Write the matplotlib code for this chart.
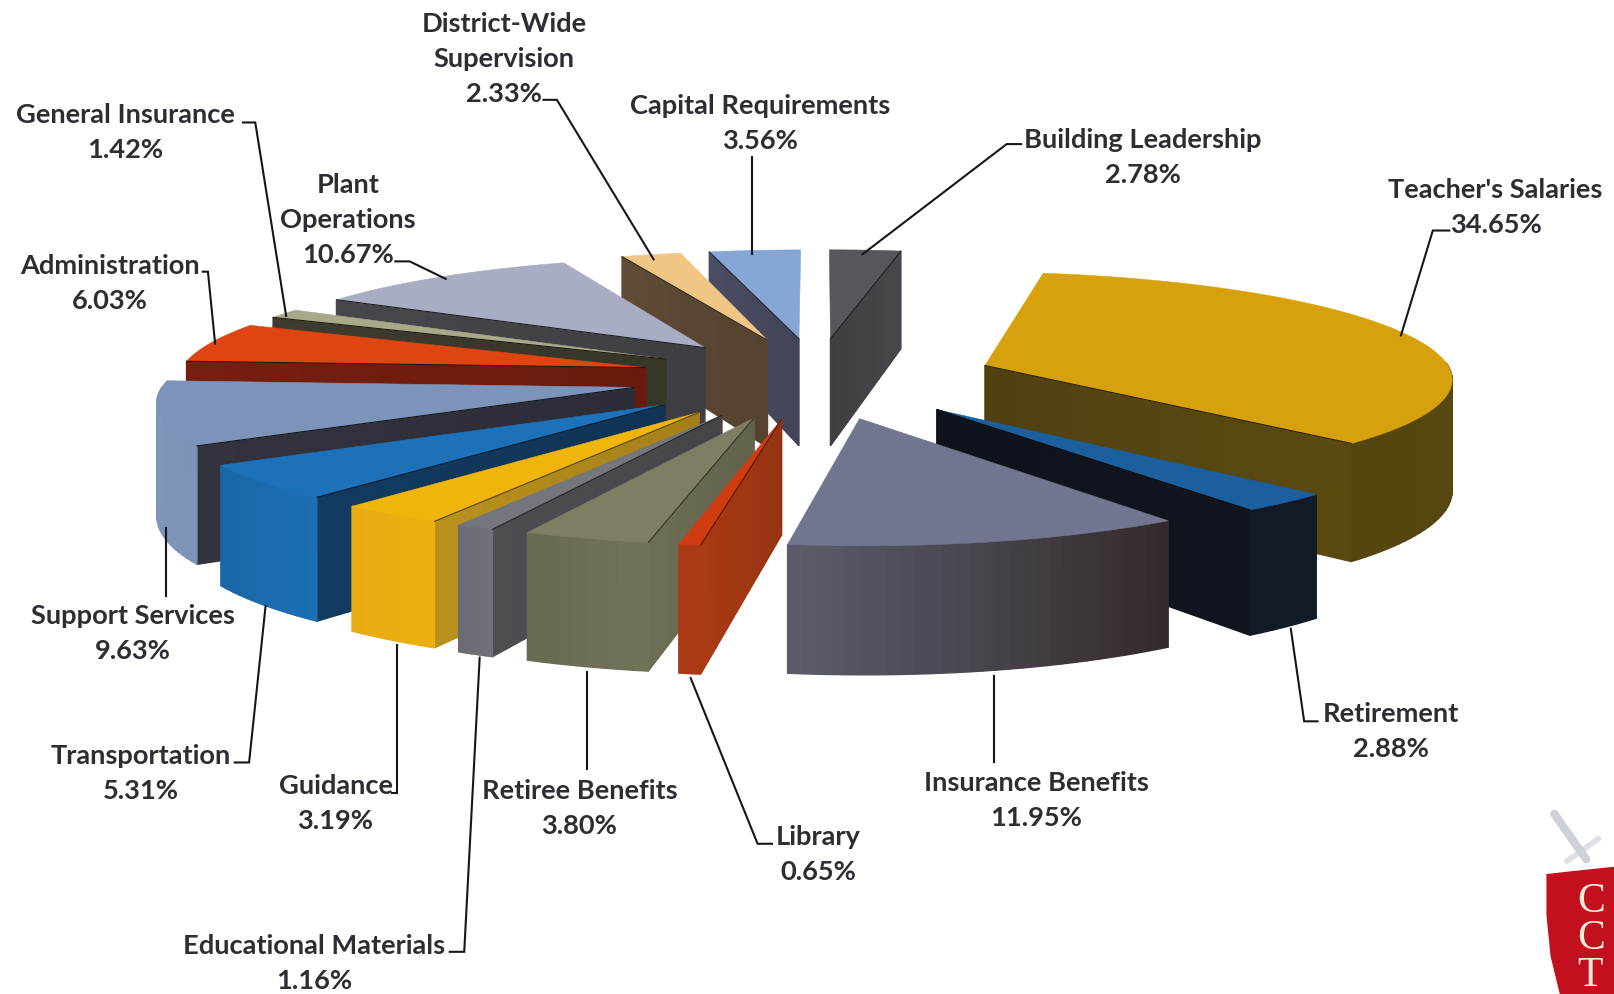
import numpy as np
import matplotlib
matplotlib.use("Agg")
import matplotlib.pyplot as plt
from matplotlib.patches import Polygon
from matplotlib.colors import to_rgb

# Budget shares, clockwise from twelve o'clock
categories = ["Building Leadership", "Teacher's Salaries", "Retirement", "Insurance Benefits",
              "Library", "Retiree Benefits", "Educational Materials", "Guidance", "Transportation",
              "Support Services", "Administration", "General Insurance", "Plant\nOperations",
              "District-Wide\nSupervision", "Capital Requirements"]
shares = [2.78, 34.65, 2.88, 11.95, 0.65, 3.80, 1.16, 3.19, 5.31, 9.63, 6.03, 1.42, 10.67, 2.33, 3.56]

top_colors = ["#56575d", "#d6a10c", "#1b5f9f", "#72758f", "#cf3c10", "#7f7e64", "#74757d", "#f0b50a",
              "#1c71b8", "#7c94b9", "#de4510", "#a9a98a", "#a9adc3", "#f0c685", "#86a6d6"]
side_colors = ["#47474b", "#5a4a12", "#11151e", "#3f404c", "#a93a14", "#6e6e56", "#4e4d51", "#b8901c",
               "#123a60", "#33333e", "#761e10", "#3f3c2e", "#47464c", "#5f4b36", "#4a4c62"]
outer_near = ["#47474b", "#5a4a12", "#121a28", "#332a2c", "#a93a14", "#72725a", "#6f7179", "#ebb010",
              "#1c6fb4", "#7c94b9", "#761e10", "#3f3c2e", "#47464c", "#5f4b36", "#4a4c62"]
outer_far = ["#47474b", "#55460f", "#121a28", "#5a5c6a", "#a93a14", "#6a6a52", "#6a6c74", "#e8ac12",
             "#1a66a6", "#8097bb", "#761e10", "#3f3c2e", "#47464c", "#5f4b36", "#4a4c62"]

# Sideways pull of each exploded slice, on top of the radial explosion
slice_shift = [-3, -3, -1, -2, -6, -8, -13, -14, -13, -7, 0, 4, 0, 0, 0]

# Label text anchors and the leader line that runs from each label to its slice
label_xy = [(1110, 153), (1453, 202), (1351, 711), (1007, 778), (795, 830), (563, 786), (305, 936),
            (326, 781), (137, 752), (129, 616), (107, 276), (122, 129), (338, 214), (490, 57), (738, 120)]
leader_xy = [
    [(992, 141), (978, 141), (838, 248)],
    [(1408, 225), (1392, 225), (1361, 327)],
    [(1280, 702), (1267, 702), (1254, 612)],
    [(966, 742), (966, 658)],
    [(750, 821), (736, 821), (671, 660)],
    [(570, 748), (570, 654)],
    [(437, 926), (451, 926), (466, 640)],
    [(381, 772), (386, 772), (386, 628)],
    [(228, 742), (242, 742), (258, 590)],
    [(161, 580), (161, 514)],
    [(197, 265), (202, 265), (209, 335)],
    [(236, 120), (248, 120), (278, 308)],
    [(384, 255), (398, 255), (433, 272)],
    [(528, 98), (541, 98), (635, 253)],
    [(731, 154), (731, 248)],
]

# Projection of the tilted, exploded disc
CX, CY = 795.0, 368.0
RADIUS, EXPLODE, DEPTH = 455.0, 175.0, 108.0
TILT, CAMERA = 0.225, 4500.0


def project(X, Y, Z=0.0):
    s = 1.0 / (1.0 - np.asarray(Y, float) / CAMERA)
    return np.column_stack([CX + np.asarray(X, float) * s, CY + (TILT * np.asarray(Y, float) + Z) * s])


def mix(a, b, t):
    a, b = np.array(to_rgb(a)), np.array(to_rgb(b))
    return tuple(a + (b - a) * t)


fig = plt.figure(figsize=(16.14, 9.95), dpi=100)
ax = fig.add_axes([0, 0, 1, 1])
ax.set_xlim(0, 1568)
ax.set_ylim(967, 0)
ax.axis("off")


def face(points, color, z, width=1.0):
    ax.add_patch(Polygon(points, closed=True, facecolor=color, edgecolor=color, linewidth=width, zorder=z))


edges = np.concatenate([[0], np.cumsum(shares)]) / sum(shares) * 2 * np.pi
mids = (edges[:-1] + edges[1:]) / 2
apex_X = EXPLODE * np.sin(mids) + np.array(slice_shift, float)
apex_Y = -EXPLODE * np.cos(mids)
order = np.argsort(apex_Y)

for rank, i in enumerate(order):
    z = 2 + rank
    a0, a1 = edges[i], edges[i + 1]
    th = np.linspace(a0, a1, max(6, int((a1 - a0) * 40)))
    X = apex_X[i] + RADIUS * np.sin(th)
    Y = apex_Y[i] - RADIUS * np.cos(th)
    ax_, ay_ = apex_X[i], apex_Y[i]

    # radial walls, only those turned toward the viewer
    for ang, sign in ((a0, -1), (a1, 1)):
        ny = np.sin(ang) * sign
        if ny <= 0:
            continue
        ex, ey = ax_ + RADIUS * np.sin(ang), ay_ - RADIUS * np.cos(ang)
        steps = np.linspace(0, 1, 13)
        for t0, t1 in zip(steps[:-1], steps[1:]):
            xs = [ax_ + (ex - ax_) * t0, ax_ + (ex - ax_) * t1]
            ys = [ay_ + (ey - ay_) * t0, ay_ + (ey - ay_) * t1]
            quad = np.vstack([project(xs, ys), project(xs[::-1], ys[::-1], DEPTH)])
            face(quad, mix(side_colors[i], "#000000", 0.12 * (1 - t1)), z)
        ax.plot(*project([ax_, ex], [ay_, ey]).T, color=mix(side_colors[i], "#000000", 0.55), lw=0.8,
                zorder=z + 0.6, solid_capstyle="round")

    # curved outer wall, only the part facing the viewer
    for k in range(len(th) - 1):
        if np.cos((th[k] + th[k + 1]) / 2) > 0.02:
            continue
        quad = np.vstack([project(X[k:k + 2], Y[k:k + 2]),
                          project(X[k:k + 2][::-1], Y[k:k + 2][::-1], DEPTH)])
        face(quad, mix(outer_near[i], outer_far[i], k / (len(th) - 2)), z + 0.2)

    # top surface
    top = project(np.r_[ax_, X], np.r_[ay_, Y])
    face(top, top_colors[i], z + 0.4, 0.4)

# Labels with percentage and leader lines
for name, value, (lx, ly), line in zip(categories, shares, label_xy, leader_xy):
    ax.text(lx, ly, f"{name}\n{value:.2f}%", ha="center", va="center", fontsize=19.6,
            family="Lato", fontweight="bold", color="#2c2e34", linespacing=1.55, zorder=40)
    ax.plot(*zip(*line), color="#16161a", lw=1.5, zorder=39, solid_joinstyle="miter")

# School crest in the corner
ax.plot([1510, 1541], [792, 836], color="#c2c6d0", lw=6, alpha=0.8, zorder=1, solid_capstyle="round")
ax.plot([1522, 1553], [838, 816], color="#d0d3da", lw=4, alpha=0.7, zorder=1, solid_capstyle="round")
shield = np.array([(1503, 851), (1530, 848), (1568, 844), (1568, 967), (1516, 967), (1507, 930), (1503, 890)])
face(shield, "#c2101f", 1.5)
ax.text(1532, 912, "C\nC\nT", ha="left", va="center", fontsize=30, family="Liberation Serif",
        color="#f6ecd8", linespacing=0.95, zorder=2)

fig.savefig("out.png", dpi=100, facecolor="white")
